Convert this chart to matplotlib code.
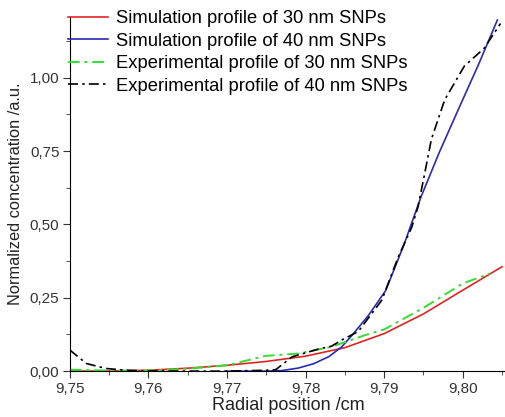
import matplotlib
matplotlib.use("Agg")
import matplotlib.pyplot as plt
from matplotlib.ticker import FuncFormatter, MultipleLocator

plt.rcParams['font.family'] = ['Liberation Sans', 'DejaVu Sans']

# simulação 30 nm
x_sim30 = [9.750, 9.755, 9.760, 9.765, 9.770, 9.775, 9.780, 9.785, 9.790, 9.795, 9.800, 9.805]
y_sim30 = [0.000, 0.000, 0.003, 0.010, 0.020, 0.033, 0.051, 0.080, 0.128, 0.195, 0.276, 0.356]

# simulação 40 nm
x_sim40 = [9.770, 9.775, 9.777, 9.779, 9.781, 9.783, 9.7846, 9.786, 9.788, 9.7902, 9.7925, 9.7947, 9.797, 9.7994, 9.802, 9.8044]
y_sim40 = [0.000, 0.000, 0.002, 0.010, 0.025, 0.050, 0.083, 0.125, 0.190, 0.275, 0.430, 0.595, 0.745, 0.890, 1.045, 1.197]

# experimental 30 nm
x_exp30 = [9.750, 9.755, 9.760, 9.765, 9.770, 9.7749, 9.7791, 9.7833, 9.7876, 9.790, 9.7952, 9.800, 9.8035]
y_exp30 = [0.005, 0.002, 0.002, 0.008, 0.020, 0.052, 0.060, 0.083, 0.123, 0.142, 0.219, 0.299, 0.333]

# experimental 40 nm
x_exp40 = [9.750, 9.7521, 9.7546, 9.7572, 9.760, 9.765, 9.770, 9.775, 9.7762, 9.7783, 9.7816, 9.7833,
           9.7846, 9.7867, 9.7897, 9.7918, 9.7935, 9.7943, 9.7952, 9.796, 9.7977, 9.8002, 9.8027, 9.8048]
y_exp40 = [0.072, 0.026, 0.009, 0.003, 0.001, 0.000, 0.000, 0.003, 0.005, 0.049, 0.075, 0.085,
           0.106, 0.135, 0.242, 0.390, 0.490, 0.560, 0.680, 0.790, 0.925, 1.040, 1.100, 1.185]

fig = plt.figure(figsize=(5.06, 4.17), dpi=100)
ax = fig.add_axes([0.138, 0.110, 0.862, 0.849])

ax.plot(x_sim30, y_sim30, color="#e02424", lw=1.2, label="Simulation profile of 30 nm SNPs")
ax.plot(x_sim40, y_sim40, color="#2a2ab4", lw=1.2, label="Simulation profile of 40 nm SNPs")
ax.plot(x_exp30, y_exp30, color="#33dd33", lw=1.4, dashes=(6, 2.5, 1.5, 2.5), label="Experimental profile of 30 nm SNPs")
ax.plot(x_exp40, y_exp40, color="black", lw=1.2, dashes=(6, 2.5, 1.5, 2.5), label="Experimental profile of 40 nm SNPs")

ax.set_xlim(9.75, 9.8055)
ax.set_ylim(0, 1.207)
ax.spines['top'].set_visible(False)
ax.spines['right'].set_visible(False)

ax.xaxis.set_major_locator(MultipleLocator(0.01))
ax.xaxis.set_minor_locator(MultipleLocator(0.005))
ax.yaxis.set_major_locator(MultipleLocator(0.25))
ax.yaxis.set_minor_locator(MultipleLocator(0.125))
ax.xaxis.set_major_formatter(FuncFormatter(lambda v, p: f"{v:.2f}".replace(".", ",")))
ax.yaxis.set_major_formatter(FuncFormatter(lambda v, p: f"{v:.2f}".replace(".", ",")))
ax.tick_params(which="major", direction="out", length=5, labelsize=11, color="#333333", labelcolor="#333333", pad=2.5)
ax.tick_params(which="minor", direction="out", length=3, color="#333333")

ax.set_xlabel("Radial position /cm", fontsize=13, labelpad=1, color="#222222")
ax.set_ylabel("Normalized concentration /a.u.", fontsize=11.8, labelpad=5, color="#222222")

ax.legend(loc="upper left", bbox_to_anchor=(-0.004, 1.019), frameon=False, fontsize=13.2,
          handlelength=2.2, handletextpad=0.4, borderpad=0, borderaxespad=0, labelspacing=0.3)

fig.savefig("out.png", dpi=100)
